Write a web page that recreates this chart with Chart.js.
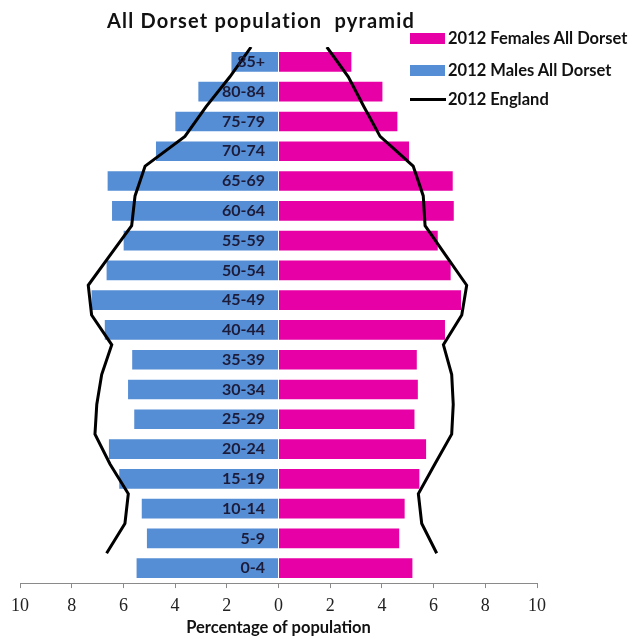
<!DOCTYPE html>
<html>
<head>
<meta charset="utf-8">
<script src="https://cdn.jsdelivr.net/npm/chart.js@4.4.1/dist/chart.umd.min.js"></script>
<style>
  html, body { margin: 0; padding: 0; background: #fff; }
  #wrap { position: relative; width: 633px; height: 639px; overflow: hidden; }
  #c { position: absolute; left: 0; top: 0; }
  #title { position: absolute; left: 107px; top: 10px; font: bold 20px Lato, "Open Sans", sans-serif; line-height: 20px; letter-spacing: 1.2px; color: #111; white-space: pre; }
  .lg { position: absolute; left: 410px; font: bold 16.5px Lato, "Open Sans", sans-serif; color: #111; white-space: nowrap; }
  .lg .sw { position: absolute; left: 0; width: 35px; height: 11px; }
  .lg .ln { position: absolute; left: 0; width: 36px; height: 3px; background: #000; }
  .lg span.t { position: absolute; left: 38px; top: -9px; line-height: 18px; }
</style>
</head>
<body>
<div id="wrap">
  <canvas id="c" width="633" height="639"></canvas>
  <div id="title"></div>
  <div id="legend"></div>
</div>
<script>
// ---- data ----
const chartTitle = "All Dorset population  pyramid";
const ageGroups = ["0-4","5-9","10-14","15-19","20-24","25-29","30-34","35-39","40-44","45-49","50-54","55-59","60-64","65-69","70-74","75-79","80-84","85+"];
const females = [5.18, 4.67, 4.88, 5.45, 5.71, 5.26, 5.39, 5.35, 6.44, 7.06, 6.66, 6.16, 6.78, 6.74, 5.05, 4.60, 4.02, 2.82];
const males   = [5.49, 5.09, 5.29, 6.16, 6.56, 5.58, 5.82, 5.66, 6.72, 7.23, 6.65, 5.99, 6.44, 6.61, 4.74, 3.99, 3.10, 1.82];
// England outline, read at the boundaries between age bands (bottom to top)
const englandMales   = [6.65, 5.94, 5.81, 6.52, 7.10, 7.03, 6.84, 6.45, 7.23, 7.36, 6.52, 5.68, 5.55, 5.16, 3.62, 2.80, 1.88, 1.06];
const englandFemales = [6.12, 5.54, 5.41, 6.05, 6.70, 6.76, 6.70, 6.38, 7.09, 7.28, 6.47, 5.67, 5.60, 5.21, 3.93, 3.30, 2.70, 1.87];
const xTicks = [-10, -8, -6, -4, -2, 0, 2, 4, 6, 8, 10];
const seriesNames = ["2012 Females All Dorset", "2012 Males All Dorset", "2012 England"];
const axisTitle = "Percentage of population";

const PINK = "#E600A6";
const BLUE = "#558ED5";

const englandLine = englandMales.map((v, i) => ({ x: -v, y: i + 0.5 }))
  .concat([{ x: null, y: null }])
  .concat(englandFemales.map((v, i) => ({ x: v, y: i + 0.5 })));

const chart = new Chart(document.getElementById("c"), {
  type: "bar",
  data: {
    labels: ageGroups,
    datasets: [
      { type: "bar", label: seriesNames[0], data: females, backgroundColor: PINK, yAxisID: "y", xAxisID: "x",
        stack: "pop", grouped: false, categoryPercentage: 1, barPercentage: 0.66, order: 2 },
      { type: "bar", label: seriesNames[1], data: males.map(v => -v), backgroundColor: BLUE, yAxisID: "y", xAxisID: "x",
        stack: "pop", grouped: false, categoryPercentage: 1, barPercentage: 0.66, order: 2 },
      { type: "line", label: seriesNames[2], data: englandLine, yAxisID: "y2", xAxisID: "x",
        borderColor: "#000", borderWidth: 3, pointRadius: 0, tension: 0, fill: false, spanGaps: false, order: 1 }
    ]
  },
  options: {
    indexAxis: "y",
    responsive: false,
    animation: false,
    devicePixelRatio: 1,
    layout: { padding: { left: 20, right: 96, top: 47, bottom: 0 } },
    plugins: { legend: { display: false }, title: { display: false }, tooltip: { enabled: false } },
    scales: {
      x: {
        type: "linear", min: -10, max: 10, stacked: true,
        afterBuildTicks: s => { s.ticks = xTicks.map(v => ({ value: v })); },
        ticks: { callback: v => Math.abs(v), color: "#222", font: { family: "'Liberation Serif', serif", size: 18, lineHeight: 1.333 }, padding: 6, maxRotation: 0 },
        grid: { display: true, drawOnChartArea: false, drawTicks: true, tickLength: 5, color: "#8a8a8a" },
        border: { display: true, color: "#8a8a8a", width: 1 },
        title: { display: true, text: axisTitle, color: "#111", font: { family: "Lato, sans-serif", size: 16.5, weight: "bold", lineHeight: 0.42 }, padding: { top: 0, bottom: 8 } }
      },
      y: {
        type: "category", reverse: true, stacked: true, offset: true, position: { x: -0.52 },
        grid: { display: false, drawTicks: false, offset: true },
        border: { display: false },
        ticks: { z: 1, color: "#1c1c3a", padding: 0, font: { family: "Lato, sans-serif", size: 16, weight: "bold" } }
      },
      y2: { type: "linear", axis: "y", min: -0.5, max: 17.5, offset: false, grid: { offset: false }, display: false }
    }
  }
});

// title + legend as text
document.getElementById("title").textContent = chartTitle;
const legend = document.getElementById("legend");
const legendY = [38, 70, 99];
chart.data.datasets.forEach((ds, i) => {
  const d = document.createElement("div");
  d.className = "lg";
  d.style.top = legendY[i] + "px";
  const mark = document.createElement("div");
  if (ds.type === "line") { mark.className = "ln"; mark.style.top = "-1px"; }
  else { mark.className = "sw"; mark.style.top = "-5px"; mark.style.background = ds.backgroundColor; }
  const t = document.createElement("span");
  t.className = "t";
  t.textContent = ds.label;
  d.appendChild(mark); d.appendChild(t);
  legend.appendChild(d);
});
</script>
</body>
</html>
